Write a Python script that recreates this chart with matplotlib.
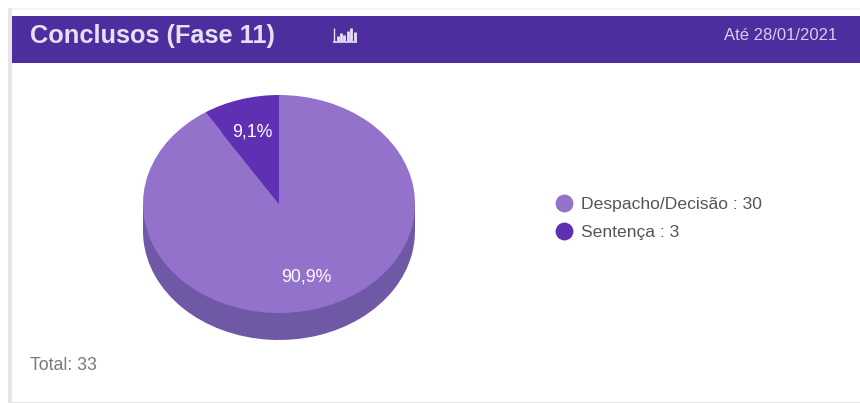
import matplotlib
matplotlib.use("Agg")
import matplotlib.pyplot as plt
from matplotlib.patches import Rectangle

plt.rcParams['font.family'] = ['Liberation Sans', 'DejaVu Sans']

categorias = ['Despacho/Decisão', 'Sentença']
valores = [30, 3]
cores = ['#9372CC', '#5F30B4']
cores_lado = ['#6F58A6', '#4F2E93']
barras_icone = [5, 8, 6, 10, 13, 9]

total = sum(valores)
W, H = 860, 403

fig = plt.figure(figsize=(W / 100, H / 100), dpi=100, facecolor='white')

# camada de fundo em coordenadas de pixel
fundo = fig.add_axes([0, 0, 1, 1])
fundo.set_xlim(0, W)
fundo.set_ylim(H, 0)
fundo.axis('off')
fundo.add_patch(Rectangle((8, 8), 852, 1.5, color='#F3F4F4', lw=0))
fundo.add_patch(Rectangle((8, 8), 4, 395, color='#E6E6E6', lw=0))
fundo.add_patch(Rectangle((8, 401.5), 852, 1.5, color='#E6E6E6', lw=0))
fundo.add_patch(Rectangle((12, 16), 848, 47, color='#4E2E9F', lw=0))

fundo.text(30, 36.5, 'Conclusos (Fase 11)', color='#E6E0F5', fontsize=18.3,
           fontweight='bold', va='center', ha='left')
fundo.text(837, 36, 'Até 28/01/2021', color='#D8CCEE', fontsize=12,
           va='center', ha='right')

# icone de barras ao lado do titulo
fundo.vlines(334, 28, 42, color='#E6E0F5', lw=1)
for i, h in enumerate(barras_icone):
    fundo.vlines(337.5 + i * 3.4, 41, 41 - h, color='#E6E0F5', lw=2)
fundo.hlines(42, 333, 357, color='#E6E0F5', lw=1.2)

# pizza com efeito 3D: elipse de 272x218 px e 27 px de profundidade
cx, cy, rx, ry, prof = 279, 204, 136, 109, 27
ax = fig.add_axes([(cx - rx) / W, (H - cy - ry - prof) / H,
                   2 * rx / W, (2 * ry + prof) / H])
d = prof / ry
ax.pie(valores, colors=cores_lado, startangle=90, counterclock=False,
       center=(0, -d), radius=1)
ax.add_patch(Rectangle((-1, -d), 2, d, color=cores_lado[0], lw=0))
ax.pie(valores, colors=cores, startangle=90, counterclock=False,
       center=(0, 0), radius=1)
ax.set_aspect('auto')
ax.set_xlim(-1, 1)
ax.set_ylim(-1 - d, 1)

# textos por cima da pizza
topo = fig.add_axes([0, 0, 1, 1])
topo.set_xlim(0, W)
topo.set_ylim(H, 0)
topo.axis('off')
topo.patch.set_alpha(0)

pos_rotulos = [(306, 277), (252, 132)]
for v, (x, y) in zip(valores, pos_rotulos):
    pct = f'{v / total * 100:.1f}'.replace('.', ',') + '%'
    topo.text(x, y, pct, color='white', fontsize=12.8, ha='center', va='center')

pos_legenda = [203, 231]
for nome, v, cor, y in zip(categorias, valores, cores, pos_legenda):
    topo.scatter([564], [y], s=165, color=cor, linewidths=0)
    topo.text(581, y + 1, f'{nome} : {v}', color='#555555', fontsize=12.6, va='center')

topo.text(30, 365, f'Total: {total}', color='#7A7A7A', fontsize=12.8, va='center')

fig.savefig('out.png', dpi=100)
